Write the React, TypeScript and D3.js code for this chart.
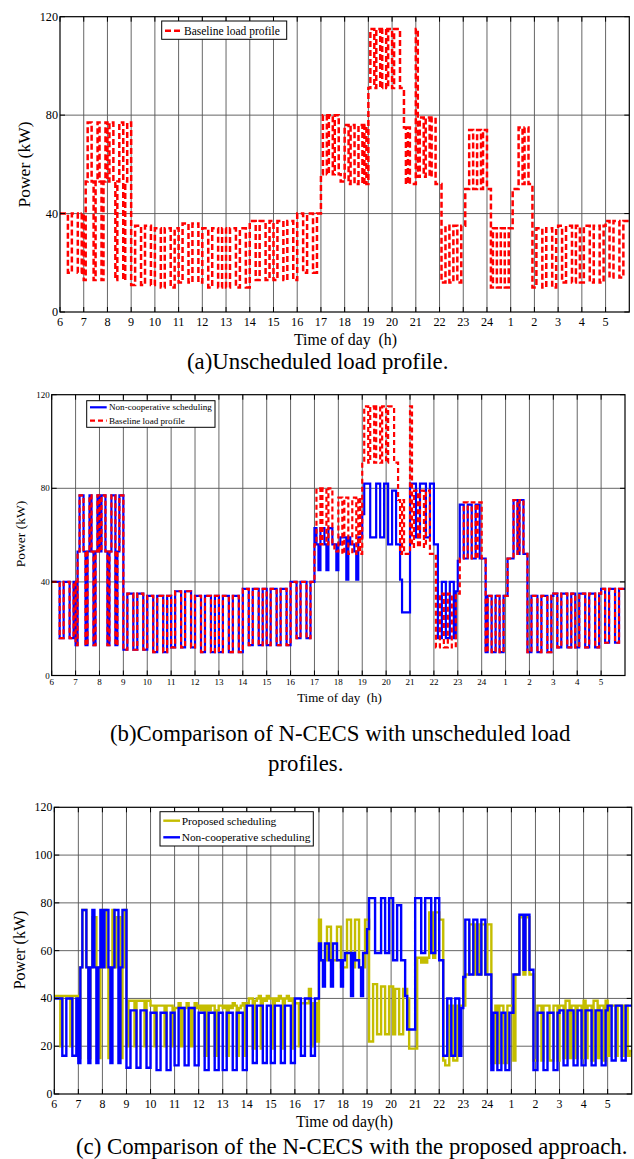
import React from 'react';
import * as d3 from 'd3';

// ---------------- DATA (kW, 12 five-minute slots per hour) ----------------
const hourTicks = ['6','7','8','9','10','11','12','13','14','15','16','17','18','19','20','21','22','23','24','1','2','3','4','5'];

// hours 6..16 : identical for baseline and non-cooperative
const sharedDay: number[][] = [
  [40,40,40,40,16,16,40,40,40,16,16,40],
  [13,53,77,77,53,13,53,77,53,13,53,77],
  [53,77,77,53,13,53,77,77,13,53,77,77],
  [11,11,35,35,35,11,11,35,35,35,11,11],
  [34,34,34,10,10,34,34,34,10,10,34,34],
  [12,12,36,36,36,12,12,36,36,36,12,12],
  [34,34,34,10,10,34,34,34,10,10,34,34],
  [10,10,34,34,34,10,10,34,34,34,10,10],
  [37,37,37,13,13,37,37,37,13,13,37,37],
  [13,13,37,37,37,13,13,37,37,37,13,13],
  [40,40,40,16,16,40,40,40,16,16,40,40],
];
// hours 17..23
const baselineEvening: number[][] = [
  [56,80,80,56,80,80,56,80,80,56,53,53],
  [76,76,52,76,76,52,52,76,76,52,76,52],
  [91,115,115,91,115,115,91,115,115,91,115,115],
  [91,115,115,115,91,91,75,52,75,52,52,52],
  [115,55,79,79,55,79,79,55,79,79,52,52],
  [52,12,12,35,35,12,12,35,35,12,12,35],
  [35,50,50,74,74,50,50,74,74,50,74,74],
];
const noncoopEvening: number[][] = [
  [63,56,45,63,63,56,45,63,63,56,56,45],
  [56,59,59,59,41,59,56,56,53,41,59,59],
  [69,82,82,82,59,59,59,82,82,59,59,82],
  [82,56,56,79,79,56,56,41,27,27,27,27],
  [82,82,82,59,59,82,82,82,59,59,82,82],
  [56,56,16,16,40,40,16,16,40,40,16,36],
  [49,73,73,50,50,73,73,50,50,73,73,50],
];
// hours 24, 1..5 : identical for baseline and non-cooperative
const sharedNight: number[][] = [
  [50,50,10,34,34,10,10,34,34,10,10,34],
  [34,50,50,50,75,75,52,75,75,52,52,10],
  [10,34,34,34,10,10,34,34,34,10,10,34],
  [35,35,12,12,35,35,35,12,12,35,35,12],
  [12,35,35,35,12,12,35,35,35,12,12,35],
  [37,37,14,14,37,37,37,14,14,37,37,37],
];
// proposed scheduling, hours 6..5
const proposedRows: number[][] = [
  [41,41,41,20,41,41,41,41,20,41,41,41],
  [15,53,77,77,53,15,53,74,74,53,15,53],
  [77,77,53,15,53,77,53,74,74,15,53,77],
  [20,39,39,39,20,39,39,39,39,20,39,39],
  [37,37,20,37,37,37,37,20,37,37,37,20],
  [36,36,38,20,36,36,38,36,20,36,38,36],
  [37,35,37,16,37,35,37,37,16,35,37,37],
  [36,37,16,37,36,38,37,16,36,37,38,16],
  [38,40,40,19,39,40,41,19,40,39,41,40],
  [40,19,40,39,41,40,19,40,41,39,40,19],
  [38,38,20,38,38,38,38,44,20,38,38,22],
  [73,56,56,56,70,70,56,56,56,70,70,53],
  [53,53,73,73,53,53,73,73,53,53,53,73],
  [73,22,22,46,46,25,25,45,45,25,25,45],
  [45,25,44,44,25,25,44,44,40,19,19,19],
  [19,57,57,55,57,55,57,76,76,57,76,76],
  [73,73,14,12,12,37,37,14,14,37,37,37],
  [37,50,50,71,71,50,71,71,50,71,71,50],
  [71,71,13,13,37,13,37,37,13,13,37,37],
  [37,14,50,50,74,74,50,74,74,50,50,14],
  [14,37,37,14,37,37,37,14,14,37,37,14],
  [37,37,15,39,39,15,37,37,15,37,37,15],
  [39,15,37,37,14,39,39,15,37,37,14,39],
  [16,37,37,37,16,37,37,16,37,37,16,18],
];

const baselineRows = [...sharedDay, ...baselineEvening, ...sharedNight];
const noncoopRows = [...sharedDay, ...noncoopEvening, ...sharedNight];

// ---------------- RENDERING ----------------
const FONT = "'Liberation Serif', 'Times New Roman', serif";
const RED = '#ff0000';
const BLUE = '#0000ff';
const OLIVE = '#c4bd00';

type Pt = [number, number];
function toPoints(rows: number[][]): Pt[] {
  const pts: Pt[] = [];
  rows.forEach((row, i) => row.forEach((v, j) => pts.push([6 + i + j / row.length, v])));
  const last = rows[rows.length - 1];
  pts.push([30, last[last.length - 1]]);
  return pts;
}

type SeriesCfg = { rows: number[][]; color: string; width: number; dash?: string; label: string };
type PanelCfg = {
  left: number; right: number; top: number; bottom: number;
  yTicks: number[]; tickFont: number;
  series: SeriesCfg[];
  legend: { x: number; y: number; w: number; h: number; font: number; sx0: number; sx1: number; tx: number; rowsY: number[] };
  legendOrder: number[];
  ylabel: { x: number; y: number; font: number };
  xlabel: { text: string; x: number; y: number; font: number };
  xtickY: number;
};

function Panel({ cfg }: { cfg: PanelCfg }) {
  const x = d3.scaleLinear().domain([6, 30]).range([cfg.left, cfg.right]);
  const y = d3.scaleLinear().domain([0, 120]).range([cfg.bottom, cfg.top]);
  const line = d3.line<Pt>().x(d => x(d[0])).y(d => y(d[1])).curve(d3.curveStepAfter);
  const hours = d3.range(6, 30);
  const tl = 5;
  return (
    <g>
      {/* grid */}
      {hours.slice(1).map(h => (
        <line key={'gv' + h} x1={x(h)} x2={x(h)} y1={cfg.top} y2={cfg.bottom} stroke="#555" strokeWidth={0.9} />
      ))}
      {cfg.yTicks.filter(t => t > 0 && t < 120).map(t => (
        <line key={'gh' + t} x1={cfg.left} x2={cfg.right} y1={y(t)} y2={y(t)} stroke="#555" strokeWidth={0.9} />
      ))}
      {/* series */}
      <g clipPath="none">
        {cfg.series.map((s, i) => (
          <path key={'s' + i} d={line(toPoints(s.rows)) || ''} fill="none" stroke={s.color}
            strokeWidth={s.width} strokeDasharray={s.dash} strokeLinejoin="miter" />
        ))}
      </g>
      {/* frame & ticks */}
      <rect x={cfg.left} y={cfg.top} width={cfg.right - cfg.left} height={cfg.bottom - cfg.top} fill="none" stroke="#000" strokeWidth={1.2} />
      {hours.map(h => (
        <g key={'tx' + h}>
          <line x1={x(h)} x2={x(h)} y1={cfg.bottom} y2={cfg.bottom - tl} stroke="#000" strokeWidth={1} />
          <line x1={x(h)} x2={x(h)} y1={cfg.top} y2={cfg.top + tl} stroke="#000" strokeWidth={1} />
          <text x={x(h)} y={cfg.xtickY} fontSize={cfg.tickFont} textAnchor="middle" fontFamily={FONT}>{hourTicks[h - 6]}</text>
        </g>
      ))}
      {cfg.yTicks.map(t => (
        <g key={'ty' + t}>
          <line x1={cfg.left} x2={cfg.left + tl} y1={y(t)} y2={y(t)} stroke="#000" strokeWidth={1} />
          <line x1={cfg.right} x2={cfg.right - tl} y1={y(t)} y2={y(t)} stroke="#000" strokeWidth={1} />
          <text x={cfg.left - 2} y={y(t) + cfg.tickFont * 0.34} fontSize={cfg.tickFont} textAnchor="end" fontFamily={FONT}>{t}</text>
        </g>
      ))}
      {/* legend */}
      <rect x={cfg.legend.x} y={cfg.legend.y} width={cfg.legend.w} height={cfg.legend.h} fill="#fff" stroke="#000" strokeWidth={1} />
      {cfg.legendOrder.map((si, k) => {
        const s = cfg.series[si];
        const ly = cfg.legend.rowsY[k];
        return (
          <g key={'lg' + k}>
            <line x1={cfg.legend.sx0} x2={cfg.legend.sx1} y1={ly} y2={ly} stroke={s.color} strokeWidth={s.width} strokeDasharray={s.dash} />
            <text x={cfg.legend.tx} y={ly + cfg.legend.font * 0.34} fontSize={cfg.legend.font} fontFamily={FONT}>{s.label}</text>
          </g>
        );
      })}
      {/* axis labels */}
      <text transform={`translate(${cfg.ylabel.x},${cfg.ylabel.y}) rotate(-90)`} textAnchor="middle" dominantBaseline="central"
        fontSize={cfg.ylabel.font} fontFamily={FONT}>Power (kW)</text>
      <text x={cfg.xlabel.x} y={cfg.xlabel.y} textAnchor="middle" fontSize={cfg.xlabel.font} fontFamily={FONT}
        style={{ whiteSpace: 'pre' }}>{cfg.xlabel.text}</text>
    </g>
  );
}

const panelA: PanelCfg = {
  left: 60, right: 629.3, top: 16.7, bottom: 312,
  yTicks: [0, 40, 80, 120], tickFont: 12.2,
  series: [{ rows: baselineRows, color: RED, width: 2.5, dash: '6,3', label: 'Baseline load profile' }],
  legend: { x: 161.7, y: 21, w: 125, h: 18.3, font: 11.5, sx0: 165, sx1: 180, tx: 184, rowsY: [30.7] },
  legendOrder: [0],
  ylabel: { x: 24, y: 164.5, font: 17.5 },
  xlabel: { text: 'Time of day  (h)', x: 345.5, y: 344.5, font: 15.8 },
  xtickY: 326,
};

const panelB: PanelCfg = {
  left: 51.7, right: 625, top: 394.7, bottom: 675.5,
  yTicks: [0, 40, 80, 120], tickFont: 9,
  series: [
    { rows: noncoopRows, color: BLUE, width: 2.2, label: 'Non-cooperative scheduling' },
    { rows: baselineRows, color: RED, width: 2.2, dash: '5,3', label: 'Baseline load profile' },
  ],
  legend: { x: 86.7, y: 400.7, w: 128.3, h: 26.6, font: 9.1, sx0: 90, sx1: 106.7, tx: 109, rowsY: [407.3, 420.7] },
  legendOrder: [0, 1],
  ylabel: { x: 20, y: 534, font: 13.5 },
  xlabel: { text: 'Time of day  (h)', x: 339.5, y: 701.5, font: 13 },
  xtickY: 685,
};

const panelC: PanelCfg = {
  left: 54.3, right: 631.7, top: 807.3, bottom: 1094,
  yTicks: [0, 20, 40, 60, 80, 100, 120], tickFont: 11.8,
  series: [
    { rows: proposedRows, color: OLIVE, width: 2.4, label: 'Proposed scheduling' },
    { rows: noncoopRows, color: BLUE, width: 2.4, label: 'Non-cooperative scheduling' },
  ],
  legend: { x: 160, y: 811.7, w: 153.3, h: 34.3, font: 11.4, sx0: 163.3, sx1: 180, tx: 181.7, rowsY: [820.7, 837.3] },
  legendOrder: [0, 1],
  ylabel: { x: 19, y: 950, font: 16 },
  xlabel: { text: 'Time od day(h)', x: 344.5, y: 1127, font: 15.7 },
  xtickY: 1107.5,
};

export default function App() {
  return (
    <svg width={634} height={1159} viewBox="0 0 634 1159"
      style={{ position: 'absolute', left: 0, top: 0, background: '#fff' }}>
      <rect x={0} y={0} width={634} height={1159} fill="#fff" />
      <Panel cfg={panelA} />
      <Panel cfg={panelB} />
      <Panel cfg={panelC} />
      <text x={187} y={368.5} fontSize={22.8} fontFamily={FONT}>(a)Unscheduled load profile.</text>
      <text x={110} y={740.5} fontSize={22.8} fontFamily={FONT}>(b)Comparison of N-CECS with unscheduled load</text>
      <text x={268} y={771} fontSize={22.8} fontFamily={FONT}>profiles.</text>
      <text x={76} y={1154} fontSize={22.8} fontFamily={FONT}>(c) Comparison of the N-CECS with the proposed approach.</text>
    </svg>
  );
}
